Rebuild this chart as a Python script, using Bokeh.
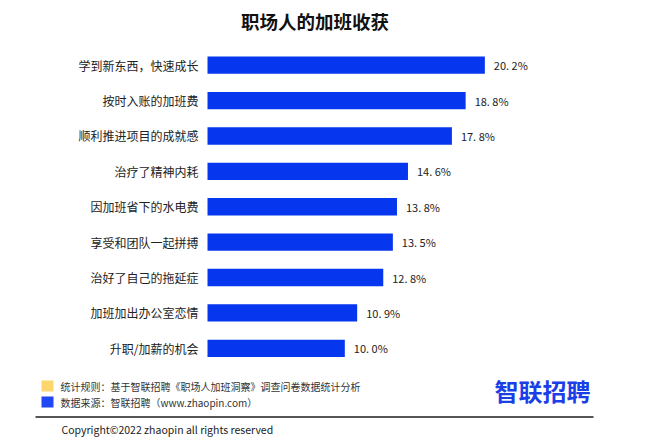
from bokeh.plotting import figure
from bokeh.models import ColumnDataSource, Range1d, Label, BoxAnnotation
from bokeh.core.properties import value
from bokeh.embed import file_html
from bokeh.resources import INLINE

# ---- data ----
categories = ["学到新东西，快速成长", "按时入账的加班费", "顺利推进项目的成就感", "治疗了精神内耗",
              "因加班省下的水电费", "享受和团队一起拼搏", "治好了自己的拖延症", "加班加出办公室恋情",
              "升职/加薪的机会"]
values = [20.2, 18.8, 17.8, 14.6, 13.8, 13.5, 12.8, 10.9, 10.0]
title_text = "职场人的加班收获"
note_rule = "统计规则：基于智联招聘《职场人加班洞察》调查问卷数据统计分析"
note_source = "数据来源：智联招聘（www.zhaopin.com）"
copyright_text = "Copyright©2022 zhaopin all rights reserved"
logo_text = "智联招聘"

rank = list(range(len(categories)))
labels = [f"{v:.1f}".replace(".", ". ") + "%" for v in values]
src = ColumnDataSource(dict(cat=categories, val=values, rank=rank, lab=labels))

FONT = "Noto Sans CJK SC"
W, H = 638, 440

p = figure(width=W, height=H, output_backend="svg", toolbar_location=None,
           x_range=Range1d(-15.077, 31.39), y_range=Range1d(10.605, -1.828),
           min_border=0, min_border_left=0, min_border_right=0,
           min_border_top=0, min_border_bottom=0)
p.xaxis.visible = False
p.yaxis.visible = False
p.grid.visible = False
p.outline_line_color = None
p.background_fill_color = "white"
p.border_fill_color = "white"

p.hbar(y="rank", right="val", left=0, height=0.49, source=src,
       fill_color="#0636ee", line_color=None)

p.text(x=0, y="rank", text="cat", source=src, x_offset=-9,
       text_align="right", text_baseline="middle",
       text_font=value(FONT), text_font_size="12px", text_color="#222222")

p.text(x="val", y="rank", text="lab", source=src, x_offset=9,
       text_align="left", text_baseline="middle",
       text_font=value(FONT), text_font_size="11px", text_color="#222222")

# title
p.add_layout(Label(x=314.5, y=419.5, x_units="screen", y_units="screen", text=title_text,
                   text_align="center", text_baseline="middle", text_font=FONT,
                   text_font_size="18.5px", text_font_style="bold", text_color="#111111"))

# footer
p.add_layout(BoxAnnotation(left=41, right=53, bottom=49, top=60,
                           left_units="screen", right_units="screen",
                           bottom_units="screen", top_units="screen",
                           fill_color="#fdd66e", fill_alpha=1, line_color=None))
p.add_layout(BoxAnnotation(left=41, right=53, bottom=33, top=44,
                           left_units="screen", right_units="screen",
                           bottom_units="screen", top_units="screen",
                           fill_color="#2146f5", fill_alpha=1, line_color=None))
p.add_layout(Label(x=60, y=54, x_units="screen", y_units="screen", text=note_rule,
                   text_align="left", text_baseline="middle", text_font=FONT,
                   text_font_size="10px", text_color="#333333"))
p.add_layout(Label(x=60, y=38, x_units="screen", y_units="screen", text=note_source,
                   text_align="left", text_baseline="middle", text_font=FONT,
                   text_font_size="10px", text_color="#333333"))
p.add_layout(BoxAnnotation(left=35, right=593, bottom=22.5, top=24.5,
                           left_units="screen", right_units="screen",
                           bottom_units="screen", top_units="screen",
                           fill_color="#555555", fill_alpha=1, line_color=None))
p.add_layout(Label(x=61, y=11, x_units="screen", y_units="screen", text=copyright_text,
                   text_align="left", text_baseline="middle", text_font=FONT,
                   text_font_size="10.5px", text_color="#222222"))
p.add_layout(Label(x=494, y=50, x_units="screen", y_units="screen", text=logo_text,
                   text_align="left", text_baseline="middle", text_font=FONT,
                   text_font_size="24px", text_font_style="bold", text_color="#1b3fe6"))

open("out.html", "w").write(file_html(p, INLINE))
